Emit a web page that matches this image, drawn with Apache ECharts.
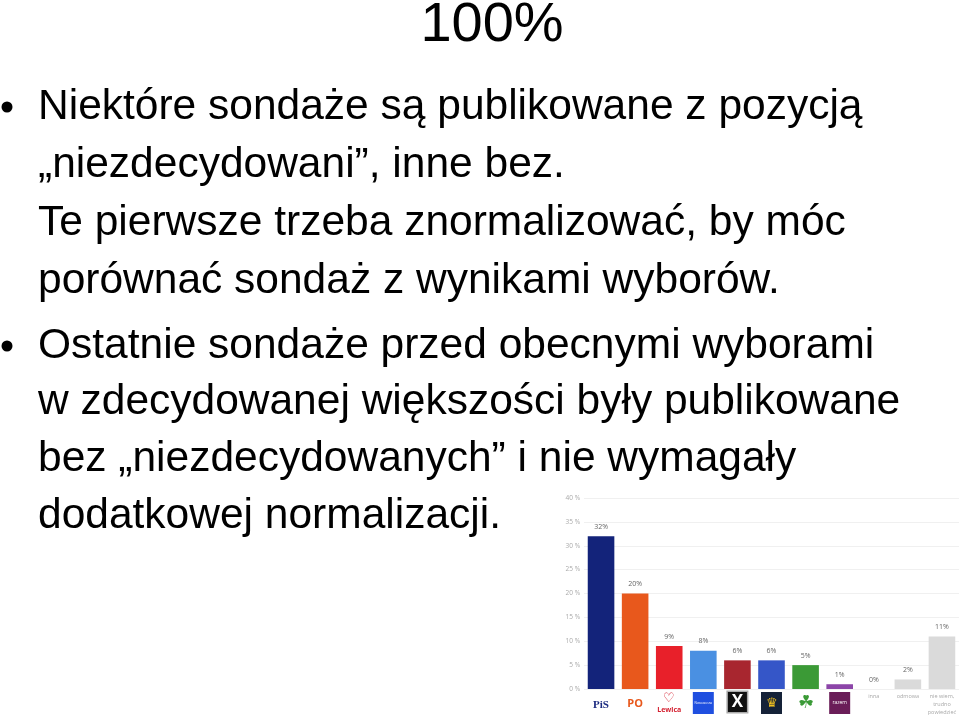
<!DOCTYPE HTML>
<html>
<head>
  <meta charset="utf-8">
  <title>100%</title>
  <script src="https://cdn.jsdelivr.net/npm/echarts@6/dist/echarts.min.js"></script>
  <style>
    html, body { margin: 0; padding: 0; background: #fff; }
    #view { width: 960px; height: 717px; }
  </style>
</head>
<body>
  <div id="view"></div>
  <script>
    // slide text
    var title = '100%';
    var lines1 = [
      'Niektóre sondaże są publikowane z pozycją',
      '„niezdecydowani”, inne bez.',
      'Te pierwsze trzeba znormalizować, by móc',
      'porównać sondaż z wynikami wyborów.'
    ];
    var lines2 = [
      'Ostatnie sondaże przed obecnymi wyborami',
      'w zdecydowanej większości były publikowane',
      'bez „niezdecydowanych” i nie wymagały',
      'dodatkowej normalizacji.'
    ];

    // poll data
    var parties = ['PiS', 'PO', 'Lewica', 'Nowoczesna', 'Kukiz\'15', 'KORWIN', 'PSL', 'Razem', 'inna', 'odmowa', 'nie wiem, trudno powiedzieć'];
    var values = [32, 20, 9, 8, 6, 6, 5, 1, 0, 2, 11];
    var colors = ['#13237a', '#e8581c', '#e8202a', '#4a90e2', '#a8262f', '#3556c8', '#3b9a36', '#8c45a8', '#dadada', '#dadada', '#dadada'];
    var yTicks = [0, 5, 10, 15, 20, 25, 30, 35, 40];

    var slideFont = "'Liberation Sans', Arial, sans-serif";
    var chartFont = "'Open Sans', 'Noto Sans', sans-serif";

    var graphic = [];
    graphic.push({
      type: 'text', x: 492, y: -2,
      style: { text: title, font: '56px ' + slideFont, fill: '#000', align: 'center', verticalAlign: 'top' }
    });
    // baselines of the lines, in pixels
    var base1 = [123, 181, 239, 297];
    var base2 = [362, 418, 475, 532];
    function addLines(lines, bases) {
      for (var i = 0; i < lines.length; i++) {
        graphic.push({
          type: 'text', x: 38, y: bases[i] - 37,
          style: { text: lines[i], font: '42.5px ' + slideFont, fill: '#000', verticalAlign: 'top' }
        });
      }
      graphic.push({
        type: 'circle', shape: { cx: 7, cy: bases[0] - 16, r: 5.5 }, style: { fill: '#000' }
      });
    }
    addLines(lines1, base1);
    addLines(lines2, base2);

    var labelKeys = ['pis', 'po', 'lewica', 'nowo', 'kukiz', 'korwin', 'psl', 'razem', 'txt', 'txt', 'txt'];
    var labelText = ['PiS', 'PO', '♡\nLewica', 'Nowoczesna', 'X', '♛', '☘', 'razem', 'inna', 'odmowa', 'nie wiem,\ntrudno\npowiedzieć'];

    var myChart = echarts.init(document.getElementById('view'));
    var option = {
      backgroundColor: '#fff',
      animation: false,
      textStyle: { fontFamily: chartFont },
      graphic: graphic,
      grid: { left: 584, right: 1, top: 498, bottom: 28, containLabel: false },
      xAxis: {
        type: 'category',
        data: parties,
        axisLine: { show: false },
        axisTick: { show: false },
        axisLabel: {
          interval: 0,
          margin: 3,
          verticalAlign: 'top',
          formatter: function (value, idx) {
            var k = labelKeys[idx];
            if (k === 'lewica') {
              return '{heart|♡}\n{lewica|Lewica}';
            }
            return '{' + k + '|' + labelText[idx] + '}';
          },
          rich: {
            pis: { color: '#1b2a80', fontSize: 11, fontFamily: 'Liberation Serif, serif', fontWeight: 'bold', padding: [8, 0, 0, 0] },
            po: { color: '#e8581c', fontSize: 11, fontWeight: 'bold', padding: [6, 0, 0, 0] },
            heart: { color: '#d42030', fontSize: 13, lineHeight: 13 },
            lewica: { color: '#d42030', fontSize: 7, fontWeight: 'bold', lineHeight: 9 },
            nowo: { color: '#fff', fontSize: 3, backgroundColor: '#1f4fe0', width: 21, height: 22, align: 'center', lineHeight: 22 },
            kukiz: { color: '#fff', fontSize: 17, fontWeight: 'bold', backgroundColor: '#111', borderColor: '#aaa', borderWidth: 1.5, width: 19, height: 20, align: 'center', lineHeight: 20 },
            korwin: { color: '#f0c020', fontSize: 13, backgroundColor: '#152238', width: 21, height: 22, align: 'center', lineHeight: 22 },
            psl: { color: '#3a9a36', fontSize: 18, lineHeight: 22 },
            razem: { color: '#fff', fontSize: 5, backgroundColor: '#6a1d58', width: 21, height: 22, align: 'center', lineHeight: 22 },
            txt: { color: '#a8a8a8', fontSize: 5.5, lineHeight: 8 }
          }
        }
      },
      yAxis: {
        type: 'value',
        min: yTicks[0],
        max: yTicks[yTicks.length - 1],
        interval: 5,
        axisLine: { show: false },
        axisTick: { show: false },
        axisLabel: { formatter: '{value} %', fontSize: 6.5, color: '#aaa', margin: 4, showMaxLabel: true, showMinLabel: true },
        splitLine: { lineStyle: { color: '#f0f0f0', width: 1 } }
      },
      series: [{
        type: 'bar',
        barCategoryGap: '22%',
        data: values.map(function (v, i) {
          return { value: v, itemStyle: { color: colors[i] } };
        }),
        label: {
          show: true,
          position: 'top',
          distance: 6,
          formatter: '{c}%',
          fontSize: 7,
          color: '#666'
        }
      }]
    };
    myChart.setOption(option);
  </script>
</body>
</html>
